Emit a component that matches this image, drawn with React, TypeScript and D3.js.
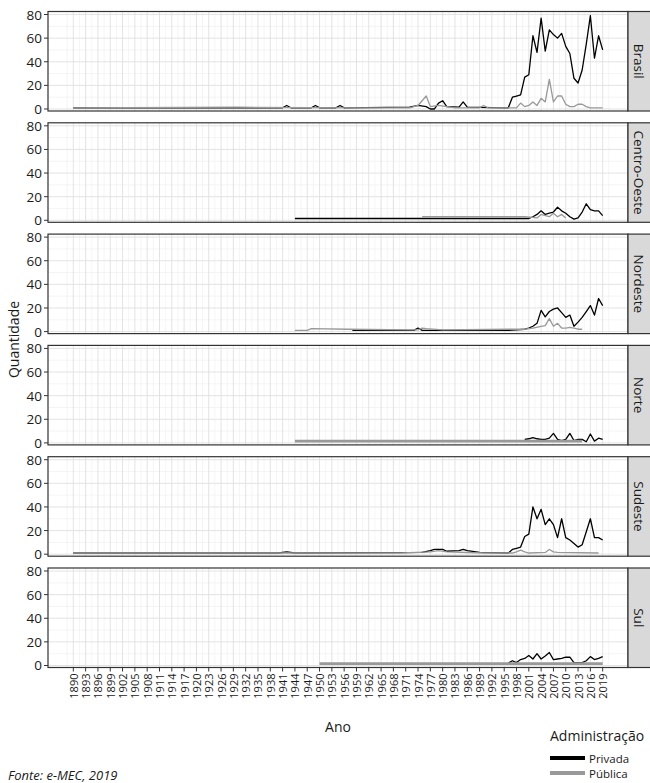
import React from "react";
import * as d3 from "d3";

type Ponto = [number, number];

// facetas e séries
const regioes = ["Brasil", "Centro-Oeste", "Nordeste", "Norte", "Sudeste", "Sul"];
const administracao = ["Privada", "Pública"];

const anosTicks = [
  1890, 1893, 1896, 1899, 1902, 1905, 1908, 1911, 1914, 1917, 1920, 1923, 1926, 1929, 1932,
  1935, 1938, 1941, 1944, 1947, 1950, 1953, 1956, 1959, 1962, 1965, 1968, 1971, 1974, 1977,
  1980, 1983, 1986, 1989, 1992, 1995, 1998, 2001, 2004, 2007, 2010, 2013, 2016, 2019,
];
const qtdTicks = [0, 20, 40, 60, 80];
const qtdMinor = [10, 30, 50, 70];

// [ano, quantidade]
const brasilPrivada: Ponto[] = [
  [1890, 1], [1941, 1], [1942, 3], [1943, 1], [1948, 1], [1949, 3], [1950, 1], [1954, 1],
  [1955, 3], [1956, 1], [1972, 1.5], [1974, 3], [1976, 2], [1977, 0], [1978, 0], [1979, 5],
  [1980, 7], [1981, 2], [1984, 1.5], [1985, 6], [1986, 1.5], [1995, 1], [1996, 1], [1997, 10],
  [1998, 11], [1999, 12], [2000, 27], [2001, 29], [2002, 62], [2003, 48], [2004, 77], [2005, 49],
  [2006, 67], [2007, 63], [2008, 60], [2009, 64], [2010, 53], [2011, 47], [2012, 26], [2013, 22],
  [2014, 33], [2015, 55], [2016, 79], [2017, 43], [2018, 62], [2019, 50],
];
const brasilPublica: Ponto[] = [
  [1890, 1], [1930, 1.5], [1960, 1], [1972, 1], [1974, 3], [1976, 11], [1977, 2], [1979, 3],
  [1981, 2], [1983, 1], [1989, 1], [1990, 3], [1991, 1], [1998, 1], [1999, 5], [2000, 2],
  [2001, 3], [2002, 6], [2003, 3], [2004, 9], [2005, 6], [2006, 25], [2007, 6], [2008, 11],
  [2009, 11], [2010, 4], [2011, 2], [2012, 2], [2013, 4], [2014, 4], [2015, 2], [2016, 1], [2019, 1],
];

const centroOestePrivada: Ponto[] = [
  [1944, 1.5], [2001, 1.5], [2002, 3], [2003, 5], [2004, 8], [2005, 5], [2006, 6], [2007, 7],
  [2008, 11], [2009, 8], [2010, 6], [2011, 3], [2012, 1], [2013, 2], [2014, 7], [2015, 14],
  [2016, 9], [2017, 8], [2018, 8], [2019, 4],
];
const centroOestePublica: Ponto[] = [
  [1975, 3], [2000, 3], [2002, 2.5], [2003, 2], [2004, 5], [2005, 4], [2006, 3], [2007, 6],
  [2008, 3], [2009, 5], [2010, 2],
];

const nordestePrivada: Ponto[] = [
  [1958, 1], [1973, 1], [1974, 3], [1975, 1], [1996, 1], [1998, 1.5], [2000, 2], [2001, 3],
  [2002, 4.5], [2003, 7], [2004, 18], [2005, 12.5], [2006, 17], [2007, 19], [2008, 20], [2009, 16],
  [2010, 12], [2011, 14], [2012, 4.5], [2013, 8], [2014, 12], [2015, 17], [2016, 22], [2017, 14],
  [2018, 28], [2019, 22],
];
const nordestePublica: Ponto[] = [
  [1944, 1], [1947, 1], [1948, 2.5], [1957, 2], [1972, 1.5], [1974, 1.5], [1975, 3], [1976, 2.5],
  [1980, 1.5], [1996, 2], [2000, 2], [2002, 3], [2004, 4.5], [2005, 5], [2006, 11], [2007, 4.5],
  [2008, 7], [2009, 3], [2010, 3], [2011, 3.5], [2012, 3], [2013, 2], [2014, 2],
];

const nortePrivada: Ponto[] = [
  [2000, 3], [2001, 3.5], [2002, 4.5], [2003, 3.5], [2004, 3], [2005, 3], [2006, 4], [2007, 8],
  [2008, 3], [2009, 2], [2010, 3], [2011, 8], [2012, 2], [2013, 3], [2014, 3], [2015, 1],
  [2016, 7.5], [2017, 1.5], [2018, 4], [2019, 3],
];
const nortePublica: Ponto[] = [[1944, 1.5], [2014, 1.5]];

const sudestePrivada: Ponto[] = [
  [1890, 1], [1940, 1], [1942, 2], [1944, 1], [1975, 1.5], [1977, 3], [1978, 4], [1980, 4],
  [1981, 2.5], [1984, 3], [1985, 4], [1986, 3], [1989, 1.5], [1996, 1], [1997, 4], [1998, 5],
  [1999, 6], [2000, 15], [2001, 17], [2002, 40], [2003, 30], [2004, 38], [2005, 25], [2006, 30],
  [2007, 25], [2008, 14], [2009, 30], [2010, 14], [2011, 12], [2012, 9], [2013, 6], [2014, 8],
  [2015, 19], [2016, 30], [2017, 14], [2018, 14], [2019, 12],
];
const sudestePublica: Ponto[] = [
  [1890, 1], [1970, 1], [1977, 2], [1979, 3], [1981, 2], [1990, 1], [1997, 1], [1998, 2],
  [1999, 3.4], [2000, 2], [2001, 1], [2005, 1.5], [2006, 4], [2007, 2], [2008, 1.5], [2018, 1],
];

const sulPrivada: Ponto[] = [
  [1996, 2], [1997, 4], [1998, 2.5], [1999, 5], [2000, 6], [2001, 8.5], [2002, 5.5], [2003, 10],
  [2004, 5.5], [2005, 8], [2006, 11], [2007, 5], [2008, 5.5], [2009, 6], [2010, 7], [2011, 7],
  [2012, 2.5], [2013, 2.5], [2014, 2.5], [2015, 4], [2016, 7.5], [2017, 5], [2018, 6], [2019, 7.5],
];
const sulPublica: Ponto[] = [[1950, 1.5], [2019, 1.5]];

const privadaPorRegiao = [brasilPrivada, centroOestePrivada, nordestePrivada, nortePrivada, sudestePrivada, sulPrivada];
const publicaPorRegiao = [brasilPublica, centroOestePublica, nordestePublica, nortePublica, sudestePublica, sulPublica];

const W = 650, H = 783;
const left = 48, right = 628;
const top0 = 11.5, step = 111.3, panelH = 99.5;
const fonte = "'Open Sans', sans-serif";
const cores = { Privada: "#000000", "Pública": "#999999" };

export default function App() {
  const x = d3.scaleLinear().domain([1883.83, 2025.17]).range([left, right]);
  const y = d3.scaleLinear().domain([-1.7, 82.55]).range([panelH, 0]);
  const linha = d3.line<Ponto>().x((d) => x(d[0])).y((d) => y(d[1]));

  const gridMinorX = [anosTicks[0] - 1.5, ...anosTicks.map((a) => a + 1.5)];
  const bottom = top0 + (regioes.length - 1) * step + panelH;

  return (
    <svg width={W} height={H} style={{ position: "absolute", left: 0, top: 0 }} fontFamily={fonte}>
      <rect width={W} height={H} fill="#fff" />
      {regioes.map((r, i) => {
        const ty = top0 + i * step;
        // publica mais grossa nos painéis Norte e Sul (linhas sobrepostas)
        const larguraPub = r === "Norte" || r === "Sul" ? 2.8 : 1.3;
        return (
          <g key={r} transform={`translate(0,${ty})`}>
            <rect x={left} y={0} width={right - left} height={panelH} fill="#fff" />
            {qtdMinor.map((q) => (
              <line key={"m" + q} x1={left} x2={right} y1={y(q)} y2={y(q)} stroke="#eeeeee" strokeWidth={0.6} />
            ))}
            {gridMinorX.map((a) => (
              <line key={"mx" + a} x1={x(a)} x2={x(a)} y1={0} y2={panelH} stroke="#eeeeee" strokeWidth={0.6} />
            ))}
            {qtdTicks.map((q) => (
              <line key={"M" + q} x1={left} x2={right} y1={y(q)} y2={y(q)} stroke="#e0e0e0" strokeWidth={0.9} />
            ))}
            {anosTicks.map((a) => (
              <line key={"Mx" + a} x1={x(a)} x2={x(a)} y1={0} y2={panelH} stroke="#e0e0e0" strokeWidth={0.9} />
            ))}
            <path d={linha(privadaPorRegiao[i]) ?? ""} fill="none" stroke={cores.Privada} strokeWidth={1.3} strokeLinejoin="round" />
            <path d={linha(publicaPorRegiao[i]) ?? ""} fill="none" stroke={cores["Pública"]} strokeWidth={larguraPub} strokeLinejoin="round" />
            <rect x={left} y={0} width={right - left} height={panelH} fill="none" stroke="#333" strokeWidth={1.2} />
            <rect x={right} y={0} width={26} height={panelH} fill="#d9d9d9" stroke="#333" strokeWidth={1.2} />
            <text
              transform={`translate(${right + 11},${panelH / 2}) rotate(90)`}
              textAnchor="middle"
              dominantBaseline="central"
              fontSize={13.5}
              fill="#1a1a1a"
            >
              {r}
            </text>
            {qtdTicks.map((q) => (
              <g key={"t" + q}>
                <line x1={left - 4} x2={left} y1={y(q)} y2={y(q)} stroke="#333" strokeWidth={1} />
                <text x={left - 6} y={y(q)} textAnchor="end" dominantBaseline="central" fontSize={13.5} fill="#1a1a1a">
                  {q}
                </text>
              </g>
            ))}
          </g>
        );
      })}
      {anosTicks.map((a) => (
        <g key={"xt" + a}>
          <line x1={x(a)} x2={x(a)} y1={bottom} y2={bottom + 4} stroke="#333" strokeWidth={1} />
          <text
            transform={`translate(${x(a)},${bottom + 6}) rotate(-90)`}
            textAnchor="end"
            dominantBaseline="central"
            fontSize={11}
            fill="#1a1a1a"
          >
            {a}
          </text>
        </g>
      ))}
      <text x={(left + right) / 2} y={732} textAnchor="middle" fontSize={14} fill="#1a1a1a">
        Ano
      </text>
      <text
        transform={`translate(13,${(top0 + bottom) / 2}) rotate(-90)`}
        textAnchor="middle"
        dominantBaseline="central"
        fontSize={14}
        fill="#1a1a1a"
      >
        Quantidade
      </text>
      <text x={550} y={741} fontSize={14} fill="#1a1a1a">
        Administração
      </text>
      {administracao.map((s, i) => (
        <g key={s} transform={`translate(550,${758 + i * 15})`}>
          <line x1={0} x2={35} y1={0} y2={0} stroke={cores[s as "Privada"]} strokeWidth={4} />
          <text x={39} y={0} dominantBaseline="central" fontSize={11.5} fill="#1a1a1a">
            {s}
          </text>
        </g>
      ))}
      <text x={8} y={780} fontSize={13} fontStyle="italic" fill="#1a1a1a">
        Fonte: e-MEC, 2019
      </text>
    </svg>
  );
}
